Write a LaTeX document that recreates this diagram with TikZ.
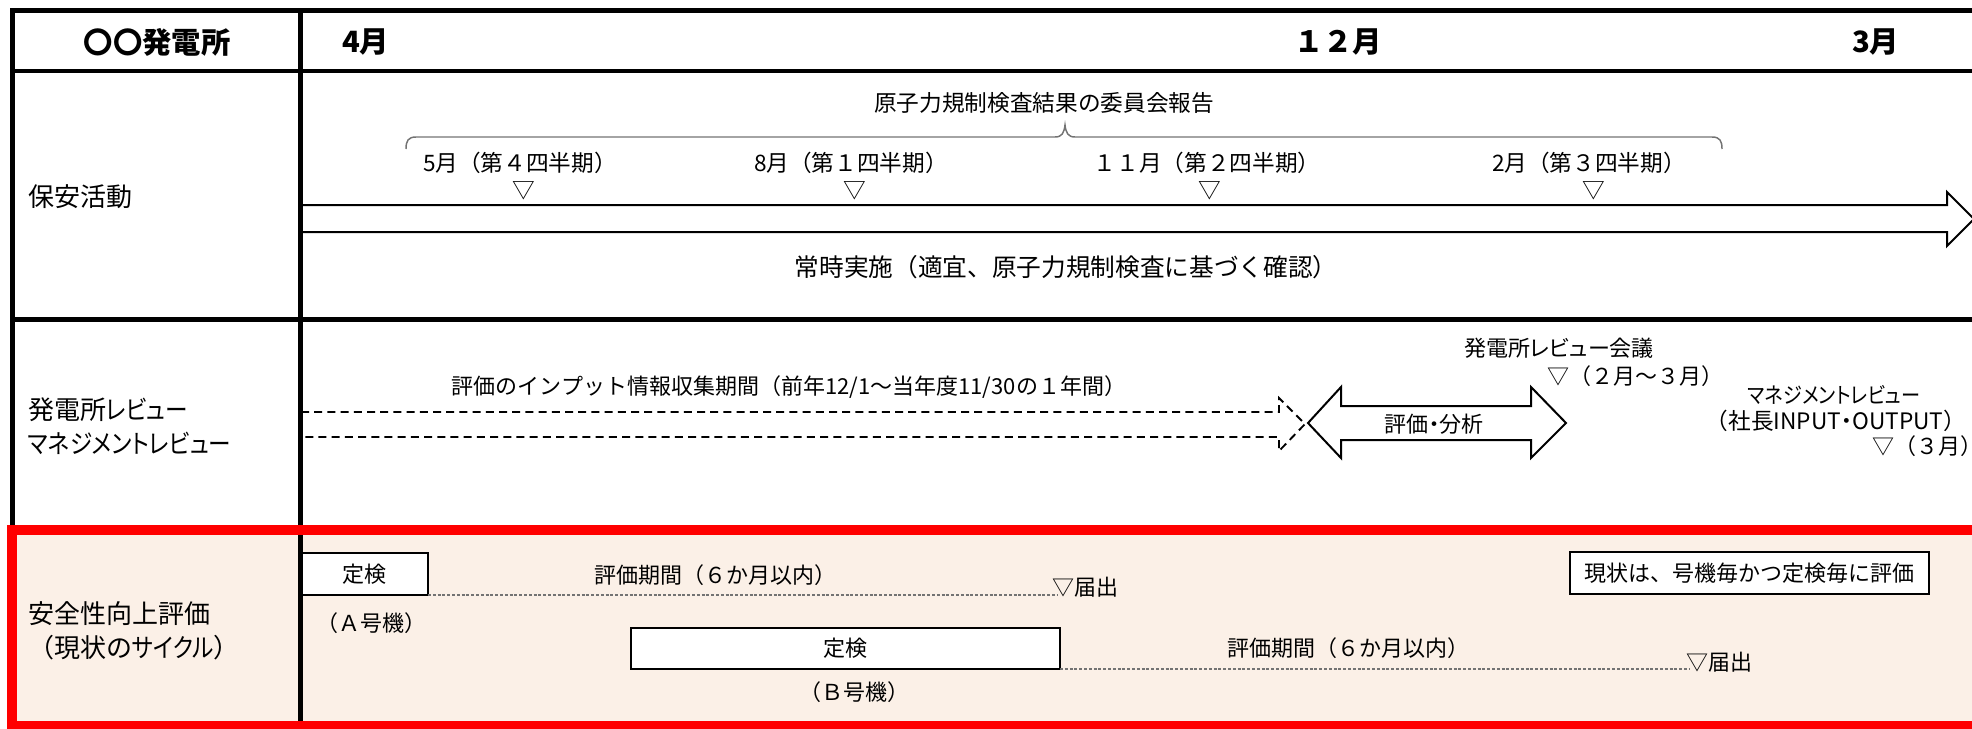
\documentclass[tikz,border=0pt]{standalone}
\usepackage{fontspec}
\setmainfont{Noto Sans CJK JP}
\newfontfamily\jpp[RawFeature=+palt]{Noto Sans CJK JP}
\newfontfamily\jpk[RawFeature=+palt,FakeStretch=0.87]{Noto Sans CJK JP}
\newcommand\ktxt[1]{{\jpk #1}}
\newcommand\pdot{{\jpp ・}}
\definecolor{peach}{RGB}{251,240,231}
\definecolor{redline}{RGB}{255,0,0}
\begin{document}
\begin{tikzpicture}[x=0.75pt,y=-0.75pt,
  every node/.style={inner sep=0pt,outer sep=0pt},
  hdr/.style={font=\fontsize{22}{26}\selectfont\bfseries},
  lbl/.style={font=\fontsize{19.5}{25.5}\selectfont,align=left,anchor=west},
  body/.style={font=\fontsize{17}{20}\selectfont},
  bodyl/.style={font=\fontsize{18.5}{22}\selectfont},
  small/.style={font=\fontsize{16.5}{20}\selectfont},
  kana/.style={font={\jpp\fontsize{16.5}{20}\selectfont}},
  tblline/.style={line width=3.6pt,draw=black},
  blockarrow/.style={draw=black,line width=1.5pt,fill=white,line join=miter},
  dasharrow/.style={draw=black,line width=1.4pt,dash pattern=on 6pt off 3.9pt,line join=miter},
  dotline/.style={draw=black!55,line width=0.8pt,dash pattern=on 2.2pt off 1.4pt},
  bracel/.style={draw=black!55,line width=1.1pt},
  stepbox/.style={draw=black,line width=1.5pt,fill=white},
]
\useasboundingbox (0,0) rectangle (1972,728);
\clip (0,0) rectangle (1972,728);

% row 3 background
\fill[peach] (12,530) rectangle (2010,726);

% ---------- header ----------
\node[hdr] (site) at (157,42) {〇〇発電所};
\node[hdr,anchor=west] (mApr) at (342,42) {4月};
\node[hdr,anchor=west] (mDec) at (1294,42) {１２月};
\node[hdr,anchor=west] (mMar) at (1852,42) {3月};

% ---------- row 1 ----------
\node[lbl] (hoan) at (28,197) {保安活動};
\node[body] (report) at (1044,103) {原子力規制検査結果の委員会報告};
\draw[bracel] (406,149) .. controls (406,141) and (408,137) .. (416,137)
  -- (1055,137) .. controls (1062,137) and (1064,133) .. (1065,125)
  .. controls (1066,133) and (1068,137) .. (1075,137)
  -- (1712,137) .. controls (1720,137) and (1722,141) .. (1722,149);
\node[body] (q1) at (520,163) {5月（第４四半期）};
\node[body] (q2) at (851,163) {8月（第１四半期）};
\node[body] (q3) at (1207,163) {１１月（第２四半期）};
\node[body] (q4) at (1589,163) {2月（第３四半期）};
\node[body] (t1) at (524,191) {▽};
\node[body] (t2) at (855,191) {▽};
\node[body] (t3) at (1210,191) {▽};
\node[body] (t4) at (1594,191) {▽};
\draw[blockarrow] (298,205) -- (1947,205) -- (1947,192) -- (1974,219)
  -- (1947,246) -- (1947,232) -- (298,232);
\node[bodyl] (always) at (1066,267) {常時実施（適宜、原子力規制検査に基づく確認）};

% ---------- row 2 ----------
\node[lbl] (review) at (28,426) {発電所\ktxt{レビュー}\\\ktxt{マネジメントレビュー}};
\node[small] (collect) at (789,387) {評価のインプット情報収集期間（前年12/1～当年度11/30の１年間）};
\draw[dasharrow] (301,412) -- (1279,412) -- (1279,398) -- (1305,424)
  -- (1279,451) -- (1279,437) -- (301,437);
\draw[blockarrow] (1308,423) -- (1341,387) -- (1341,406) -- (1531,406)
  -- (1531,387) -- (1566,423) -- (1531,458) -- (1531,440) -- (1341,440)
  -- (1341,458) -- cycle;
\node[small] (analysis) at (1434,424) {評価\pdot 分析};
\node[kana] (meeting) at (1559,348) {発電所レビュー会議};
\node[small,anchor=west] (meetwhen) at (1547,376) {▽（２月～３月）};
\node[small] (mgmt) at (1834,395) {\ktxt{マネジメントレビュー}};
\node[body] (io) at (1836,421) {（社長INPUT\pdot OUTPUT）};
\node[small,anchor=west] (mgmtwhen) at (1872,446) {▽（３月）};

% ---------- row 3 ----------
\node[lbl] (safety) at (28,631) {安全性向上評価\\（現状の\ktxt{サイクル}）};
\node[stepbox,small,minimum width=95.25pt,minimum height=31.5pt] (boxA) at (364.5,574) {定検};
\node[small] (unitA) at (371,623) {（Ａ号機）};
\node[small] (periodA) at (715,575) {評価期間（６か月以内）};
\node[small,anchor=west] (notifA) at (1052,587) {▽届出};
\coordinate (endA) at (1058,595);
\draw[dotline] (boxA.south east) -- (endA);

\node[stepbox,small,minimum width=321.75pt,minimum height=30.75pt] (boxB) at (845.5,648.5) {定検};
\node[small] (unitB) at (854,692) {（Ｂ号機）};
\node[small] (periodB) at (1348,648) {評価期間（６か月以内）};
\node[small,anchor=west] (notifB) at (1686,662) {▽届出};
\coordinate (endB) at (1690,669);
\draw[dotline] (boxB.south east) -- (endB);

\node[stepbox,small,minimum width=269.25pt,minimum height=31.5pt] (note) at (1749.5,573) {現状は、号機毎かつ定検毎に評価};

% ---------- table lines ----------
\draw[tblline] (12.7,10.5) rectangle (2010,530);
\draw[tblline] (10,71) -- (2010,71);
\draw[tblline] (10,319.5) -- (2010,319.5);
\draw[tblline] (300.7,8) -- (300.7,728);
\draw[draw=redline,line width=7.5pt] (12,530) rectangle (2010,726);
\end{tikzpicture}
\end{document}
